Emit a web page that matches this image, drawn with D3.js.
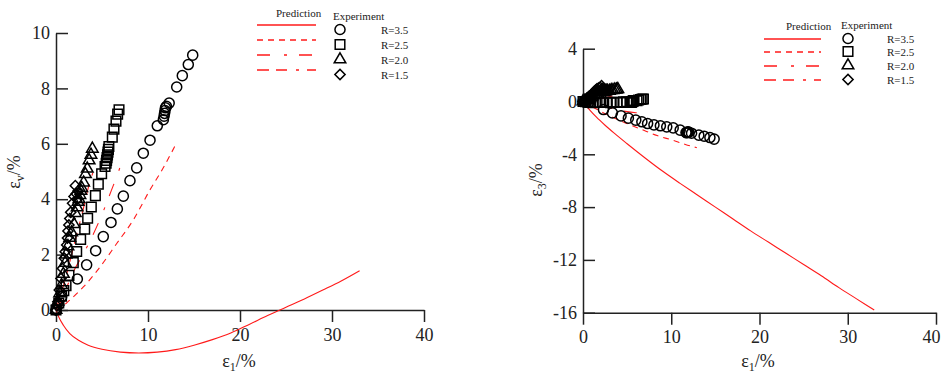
<!DOCTYPE html>
<html><head><meta charset="utf-8">
<script src="https://cdn.jsdelivr.net/npm/d3@7"></script>
<style>
body{margin:0;background:#fff;}
svg{display:block;}
svg text{font-family:"Liberation Serif","Times New Roman",serif;}
</style></head>
<body>
<svg id="c" width="942" height="374"></svg>
<script>
// ---------- DATA ----------
const seriesLabels = ["R=3.5","R=2.5","R=2.0","R=1.5"];
const xTicks = [0,10,20,30,40];
const yTicksV = [0,2,4,6,8,10];
const yTicks3 = [4,0,-4,-8,-12,-16];

// Experiment: R=3.5 (circles)
const expE1_35 = [0,0.3,0.62,2.32,3.33,4.31,5.14,5.98,6.67,7.32,8.04,8.77,9.49,10.22,11.01,11.67,11.75,11.8,11.85,11.9,12.0,12.3,13.12,13.73,14.38,14.86];
const expEv_35 = [0,0.2,0.48,1.12,1.63,2.14,2.65,3.16,3.65,4.11,4.67,5.13,5.66,6.13,6.65,6.87,7.0,7.1,7.2,7.3,7.35,7.47,8.05,8.46,8.86,9.2];
const expE3_35 = [0,-0.05,-0.07,-0.61,-0.86,-1.09,-1.26,-1.41,-1.54,-1.67,-1.77,-1.84,-1.92,-2.0,-2.17,-2.35,-2.37,-2.35,-2.33,-2.3,-2.33,-2.4,-2.55,-2.63,-2.73,-2.85];
// R=2.5 (squares)
const expE1_25 = [0,0.3,0.6,0.85,1.09,1.41,1.88,2.25,2.68,3.12,3.44,3.84,4.28,4.6,4.96,5.33,5.45,5.5,5.55,5.6,5.65,5.7,5.75,6.12,6.3,6.52,6.7,6.85];
const expEv_25 = [0,0.25,0.5,0.7,0.88,1.25,1.71,2.11,2.55,2.92,3.31,3.72,4.13,4.54,4.92,5.18,5.3,5.4,5.5,5.6,5.7,5.8,5.9,6.24,6.53,6.82,7.07,7.23];
const expE3_25 = [0,-0.02,-0.05,-0.07,-0.1,-0.08,-0.08,-0.07,-0.06,-0.1,-0.06,-0.06,-0.07,-0.03,-0.02,-0.07,-0.07,-0.05,-0.02,0,0.02,0.05,0.07,0.06,0.11,0.15,0.18,0.19];
// R=2.0 (triangles)
const expE1_20 = [0,0.2,0.4,0.6,0.8,1.0,1.1,1.3,1.5,1.7,1.95,2.1,2.3,2.4,2.5,2.6,2.7,2.8,3.0,3.2,3.4,3.6,3.8,3.95];
const expEv_20 = [0,0.3,0.6,0.9,1.3,1.7,2.0,2.3,2.6,2.8,3.1,3.5,3.7,3.9,4.0,4.15,4.3,4.4,4.6,4.9,5.1,5.4,5.6,5.82];
const expE3_20 = [0,0.05,0.1,0.15,0.25,0.35,0.45,0.5,0.55,0.55,0.58,0.7,0.7,0.75,0.75,0.78,0.8,0.8,0.8,0.85,0.85,0.9,0.9,0.93];
// R=1.5 (diamonds)
const expE1_15 = [0,0.1,0.2,0.36,0.54,0.7,0.9,1.0,1.16,1.25,1.3,1.4,1.5,1.6,1.8,1.96,2.1,2.2,2.3,2.4];
const expEv_15 = [0,0.15,0.3,0.72,1.14,1.5,1.87,2.1,2.35,2.6,2.85,3.07,3.3,3.53,3.85,4.1,4.49,4.2,4.0,4.3];
const expE3_15 = [0,0.03,0.05,0.18,0.3,0.4,0.48,0.55,0.6,0.68,0.78,0.84,0.9,0.97,1.03,1.07,1.2,1.0,0.85,0.95];

// Prediction lines
const preE1_35 = [0,0.3,0.8,1.5,2.5,3.5,5,7,9,11,13,15,17,19,21,23,25,27,29,31,33];
const preEv_35 = [0,-0.25,-0.55,-0.85,-1.1,-1.27,-1.42,-1.52,-1.55,-1.52,-1.43,-1.27,-1.07,-0.83,-0.52,-0.2,0.1,0.4,0.72,1.05,1.42];
const preE3_35 = [0,-0.27,-0.67,-1.17,-1.8,-2.38,-3.2,-4.26,-5.27,-6.2,-7.1,-8.0,-8.9,-9.8,-10.65,-11.5,-12.35,-13.2,-14.1,-14.95,-15.8];
const preE1_25 = [0,0.5,1.5,3,4.8,6.6,8.4,10.2,11.6,12.9];
const preEv_25 = [0,0.08,0.36,0.84,1.56,2.4,3.25,4.33,5.1,5.9];
const preE3_25 = [0,-0.21,-0.57,-1.08,-1.62,-2.1,-2.58,-2.94,-3.25,-3.5];
const preE1_20 = [0,0.5,1.2,2,3,4,5,6,6.8,7.3];
const preEv_20 = [0,0.3,0.85,1.45,2.05,2.7,3.45,4.3,5.0,5.5];
const preE3_20 = [0,-0.1,-0.17,-0.27,-0.47,-0.65,-0.77,-0.85,-0.9,-0.9];
const preE1_15 = [0,0.5,1,2,3,3.5,4.05];
const preEv_15 = [0,0.55,1.1,2.4,3.7,4.4,5.0];
const preE3_15 = [0,0.03,0.05,0.2,0.35,0.45,0.48];

// ---------- STYLES ----------
const dashes = [null,"6,5","13,14,3,12","12,7,11,9,3,8"];
const symbols = ["circle","square","triangle","diamond"];
const RED = "#ff1a1a";
const FONT = '"Liberation Serif","Times New Roman",serif';

const svg = d3.select("#c");

function zipXY(a,b){return a.map((v,i)=>[v,b[i]]);}

function markerPath(type){
  if(type==="circle") return d3.symbol(d3.symbolCircle, 80)();
  if(type==="square") return d3.symbol(d3.symbolSquare, 92)();
  if(type==="triangle") return d3.symbol(d3.symbolTriangle, 58)();
  if(type==="diamond") return d3.symbol(d3.symbolSquare, 52)();
}
function drawMarker(g,type,x,y){
  const p = g.append("path").attr("d",markerPath(type))
    .attr("fill","none").attr("stroke","#000").attr("stroke-width",1.5);
  if(type==="diamond") p.attr("transform",`translate(${x},${y}) rotate(45)`);
  else p.attr("transform",`translate(${x},${y})`);
}

function drawPanel(cfg){
  const {x,y,yTicks,yAxisAt,exp,pre,legend,xTitle,yTitle,ySub,lastTickShift} = cfg;
  const g = svg.append("g");
  const xa = d3.axisBottom(x).tickValues(xTicks).tickSizeInner(12).tickSizeOuter(0).tickPadding(6).tickFormat(d=>String(d));
  const ya = d3.axisLeft(y).tickValues(yTicks).tickSizeInner(-12).tickSizeOuter(0).tickPadding(6).tickFormat(d=>String(d));
  const gx = g.append("g").attr("font-family",FONT).attr("transform",`translate(0,${y(yAxisAt)})`).call(xa);
  const gy = g.append("g").attr("font-family",FONT).attr("transform",`translate(${x(0)},0)`).call(ya);
  gx.attr("font-family",FONT); gy.attr("font-family",FONT);
  [gx,gy].forEach(a=>{
    a.select(".domain").attr("stroke","#222").attr("stroke-width",1.5);
    a.selectAll(".tick line").attr("stroke","#222").attr("stroke-width",1.5);
    a.selectAll(".tick text").attr("font-family",FONT).attr("font-size",18).attr("fill","#222");
  });
  if(lastTickShift){
    gx.selectAll(".tick text").filter(d=>d===40).attr("dx",lastTickShift);
  }
  const line = d3.line().x(d=>x(d[0])).y(d=>y(d[1])).curve(d3.curveMonotoneX);
  pre.forEach((s,i)=>{
    g.append("path").attr("d",line(s)).attr("fill","none").attr("stroke",RED)
      .attr("stroke-width",1.1).attr("stroke-dasharray",dashes[i]);
  });
  exp.forEach((s,i)=>{
    const mg = g.append("g");
    s.forEach(d=>drawMarker(mg,symbols[i],x(d[0]),y(d[1])));
  });
  const L = legend;
  g.append("text").attr("x",L.predX).attr("y",L.predY).attr("font-size",11).attr("font-family",FONT).attr("fill","#222").text("Prediction");
  g.append("text").attr("x",L.expX).attr("y",L.expY).attr("font-size",11).attr("font-family",FONT).attr("fill","#222").text("Experiment");
  seriesLabels.forEach((lab,i)=>{
    const ly = L.rows[i];
    g.append("line").attr("x1",L.lineX0).attr("x2",L.lineX1).attr("y1",ly).attr("y2",ly)
      .attr("stroke",RED).attr("stroke-width",1.5).attr("stroke-dasharray",dashes[i]);
    drawMarker(g,symbols[i],L.symX,ly+L.symDy);
    g.append("text").attr("x",L.labX).attr("y",ly+L.symDy+4).attr("font-size",11).attr("font-family",FONT).attr("fill","#222").text(lab);
  });
  const xt = g.append("text").attr("x",xTitle[0]).attr("y",xTitle[1]).attr("text-anchor","middle")
    .attr("font-size",18).attr("font-family",FONT).attr("fill","#222");
  xt.append("tspan").text("ε");
  xt.append("tspan").attr("font-size",12).attr("dy",4).text("1");
  xt.append("tspan").attr("dy",-4).text("/%");
  const yt = g.append("text").attr("transform",`translate(${yTitle[0]},${yTitle[1]}) rotate(-90)`)
    .attr("text-anchor","middle").attr("font-size",18).attr("font-family",FONT).attr("fill","#222");
  yt.append("tspan").text("ε");
  yt.append("tspan").attr("font-size",12).attr("dy",4).text(ySub);
  yt.append("tspan").attr("dy",-4).text("/%");
}

// Left panel
const xL = d3.scaleLinear().domain([0,40]).range([56,424]);
const yL = d3.scaleLinear().domain([0,10]).range([310,33]);
drawPanel({
  x:xL, y:yL, yTicks:yTicksV, yAxisAt:0,
  exp:[zipXY(expE1_35,expEv_35),zipXY(expE1_25,expEv_25),zipXY(expE1_20,expEv_20),zipXY(expE1_15,expEv_15)],
  pre:[zipXY(preE1_35,preEv_35),zipXY(preE1_25,preEv_25),zipXY(preE1_20,preEv_20),zipXY(preE1_15,preEv_15)],
  legend:{predX:276,predY:17,expX:333,expY:20,lineX0:257,lineX1:316,rows:[25,40,55,70],symDy:4.5,symX:340,labX:381},
  xTitle:[239,367], yTitle:[20,172], ySub:"v"
});

// Right panel
const xR = d3.scaleLinear().domain([0,40]).range([583,936]);
const yR = d3.scaleLinear().domain([-16,4]).range([312.7,48.7]);
drawPanel({
  x:xR, y:yR, yTicks:yTicks3, yAxisAt:-16,
  exp:[zipXY(expE1_35,expE3_35),zipXY(expE1_25,expE3_25),zipXY(expE1_20,expE3_20),zipXY(expE1_15,expE3_15)],
  pre:[zipXY(preE1_35,preE3_35),zipXY(preE1_25,preE3_25),zipXY(preE1_20,preE3_20),zipXY(preE1_15,preE3_15)],
  legend:{predX:786,predY:30,expX:841,expY:29,lineX0:764,lineX1:821,rows:[39,52,66,80],symDy:-0.5,symX:848,labX:887},
  xTitle:[758,367], yTitle:[542,180], ySub:"3", lastTickShift:-5
});
</script>
</body></html>
